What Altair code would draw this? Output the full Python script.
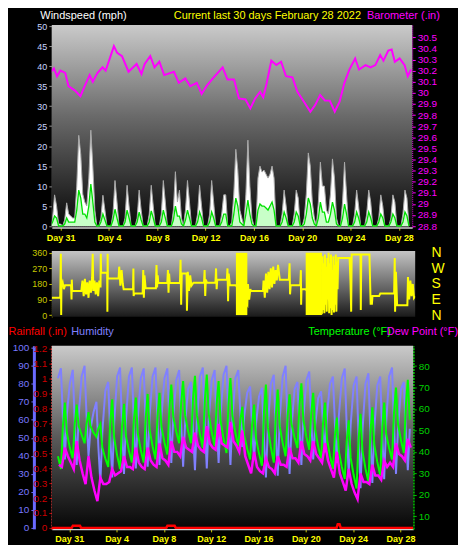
import altair as alt
import pandas as pd

# ---------------- data ----------------
DAYS = list(range(-1, 29))          # Jan 30 .. Feb 28 (0 = Jan 31)
WIND_HOURS = [0, 4, 8, 12, 16, 20]
gust = [
    [0, 0, 2, 7.8, 5, 0.5], [0.5, 0, 1.5, 5.8, 3, 2.5], [2, 2, 10, 22.7, 18, 8],
    [6, 5, 12, 24, 15, 4], [0, 0, 2, 7.7, 4, 0], [0, 0, 3, 11.4, 6, 0],
    [0, 0, 2, 10.2, 5, 0], [0, 0, 2, 9, 4, 0], [0, 0, 3, 10.2, 5, 0],
    [0, 0, 3, 11.4, 6, 0], [0, 0, 4, 13.6, 6, 9], [2, 0, 4, 11.4, 6, 0],
    [0, 0, 3, 10.2, 5, 0], [0, 0, 3, 11.4, 6, 0], [0, 0, 3, 7.8, 7.8, 0],
    [0, 1, 8, 19.2, 14, 4], [2, 0, 8, 21.5, 10, 2], [0, 0, 12, 15, 13.5, 14],
    [13, 12, 13, 15, 12, 0], [0, 0, 3, 9, 5, 0], [0, 0, 3, 9, 7, 0],
    [0, 2, 8, 18.3, 15, 6], [2, 0, 6, 16, 10, 10], [4, 3, 8, 16.8, 12, 2],
    [0, 0, 6, 16, 8, 0], [0, 0, 3, 9, 5, 0], [0, 0, 3, 9, 6, 0],
    [0, 0, 2, 7.8, 5, 0], [0, 0, 2, 7.8, 6, 0], [0, 0, 3, 9, 7, 0],
]
avg = [
    [0, 0, 1, 2.5, 2, 0], [0, 0, 0.5, 2, 1, 1], [1, 1, 4, 9, 7, 3],
    [3, 2, 5, 10.5, 6, 1], [0, 0, 1, 3, 1.5, 0], [0, 0, 1.5, 4.2, 2, 0],
    [0, 0, 1, 4, 2, 0], [0, 0, 1, 3.5, 1.5, 0], [0, 0, 1, 3.8, 2, 0],
    [0, 0, 1, 4, 2, 0], [0, 0, 1.5, 5, 2.5, 2.5], [0.5, 0, 1.5, 4, 2, 0],
    [0, 0, 1, 3.5, 2, 0], [0, 0, 1, 3.5, 2, 0], [0, 0, 1, 3, 3, 0],
    [0, 0, 3, 7, 5, 1], [0.5, 0, 3, 6.5, 3, 0.5], [0, 0, 4, 5.5, 5, 5],
    [4.5, 4, 5, 6, 4, 0], [0, 0, 1, 3.5, 2, 0], [0, 0, 1, 3.5, 2.5, 0],
    [0, 0.5, 3, 7, 5.5, 2], [0.5, 0, 2, 6, 3.5, 3.5], [1, 1, 3, 6, 4, 0.5],
    [0, 0, 2, 5.5, 3, 0], [0, 0, 1, 3.5, 2, 0], [0, 0, 1, 3.5, 2, 0],
    [0, 0, 1, 3, 2, 0], [0, 0, 1, 3, 2, 0], [0, 0, 1, 3.5, 2.5, 0],
]

baro_t = [-1.10, -0.56, -0.30, -0.02, 0.38, 0.65, 1.19, 1.64, 1.99, 2.40, 2.66, 3.06,
          3.47, 3.73, 4.41, 4.68, 5.08, 5.62, 6.29, 6.69, 6.96, 7.42, 7.77, 8.17,
          8.57, 9.38, 9.78, 10.32, 10.73, 11.27, 11.67, 12.07, 12.60, 13.01, 13.41,
          13.81, 14.35, 14.76, 15.30, 15.70, 16.10, 16.51, 16.77, 17.04, 17.44, 17.85,
          18.25, 18.65, 19.19, 19.60, 20.14, 20.67, 21.07, 21.48, 21.88, 22.28, 22.69,
          23.09, 23.49, 23.90, 24.38, 24.70, 25.24, 25.65, 26.05, 26.45, 26.72, 27.12,
          27.40, 27.66, 28.06, 28.47, 28.73, 29.01]
baro_v = [30.15, 30.22, 30.15, 30.20, 30.18, 30.06, 30.02, 29.97, 30.06, 30.16, 30.10, 30.18,
          30.23, 30.20, 30.42, 30.36, 30.33, 30.19, 30.26, 30.17, 30.26, 30.33, 30.23, 30.28,
          30.16, 30.19, 30.09, 30.13, 30.06, 30.09, 29.99, 30.06, 30.13, 30.18, 30.23,
          30.12, 30.12, 29.95, 29.94, 29.86, 29.95, 30.01, 29.96, 30.08, 30.29, 30.25,
          30.28, 30.15, 30.14, 30.01, 29.92, 29.83, 29.89, 29.98, 29.93, 29.93, 29.83,
          29.92, 30.09, 30.21, 30.31, 30.21, 30.25, 30.23, 30.25, 30.34, 30.29, 30.38,
          30.39, 30.28, 30.31, 30.25, 30.15, 30.21]

dir_t = [-1.1, -0.4, -0.35, -0.32, -0.3, -0.2, -0.1, 0.0, 0.5, 0.54, 0.56, 0.6, 1.35, 1.45,
         1.55, 1.65, 1.75, 1.85, 1.95, 2.05, 2.15, 2.25, 2.3, 2.35, 2.45, 2.55, 2.65, 2.75,
         2.85, 2.95, 2.97, 3.0, 3.5, 3.52, 3.54, 3.56, 4.45, 4.5, 4.6, 4.7, 4.8, 4.87, 5.65,
         5.68, 5.7, 5.75, 6.45, 6.5, 6.55, 6.6, 6.7, 7.55, 7.6, 7.65, 7.7, 7.75, 8.5, 8.55,
         8.6, 8.65, 8.7, 9.55, 9.6, 9.65, 9.7, 10.1, 10.13, 10.2, 10.3, 10.4, 10.5, 10.67,
         11.55, 11.6, 11.65, 11.7, 11.8, 12.5, 12.55, 12.6, 12.65, 13.45, 13.5, 13.55, 13.6,
         13.7, 14.2, 15.15, 15.2, 15.3, 15.4, 15.45, 16.45, 16.5, 16.6, 16.7, 16.8, 16.9,
         17.0, 17.1, 17.2, 17.3, 17.4, 17.5, 17.6, 17.7, 17.85, 18.6, 18.66, 18.7, 18.75,
         19.55, 19.6, 19.62, 19.65, 20.0, 21.35, 21.4, 21.45, 21.5, 21.55, 21.6, 21.65, 21.7,
         21.75, 21.8, 21.85, 21.9, 21.95, 22.0, 22.05, 22.1, 22.15, 22.2, 22.25, 22.3, 22.35,
         22.4, 22.45, 22.5, 22.55, 22.6, 22.65, 22.7, 23.65, 23.72, 23.78, 23.82, 24.55,
         24.58, 24.62, 25.3, 25.35, 25.4, 25.45, 25.5, 25.55, 26.1, 26.2, 27.35, 27.4, 27.43,
         27.5, 27.6, 28.45, 28.5, 28.6, 28.7, 28.8, 28.9, 29.0, 29.1]
dir_v = [100, 100, 355, 0, 170, 190, 150, 172, 172, 90, 205, 140, 140, 200,
         110, 210, 120, 190, 100, 200, 130, 215, 355, 140, 200, 120, 190, 110,
         200, 160, 355, 245, 245, 20, 355, 211, 211, 280, 170, 260, 180, 150, 150,
         270, 110, 125, 125, 260, 100, 230, 155, 155, 290, 160, 230, 185, 185, 260,
         130, 240, 185, 185, 320, 60, 240, 240, 25, 250, 140, 230, 170, 187,
         187, 260, 110, 205, 187, 187, 270, 150, 205, 205, 270, 80, 240,
         172, 172, 60, 180, 90, 150, 140, 140, 200, 100, 240, 130, 250,
         150, 270, 160, 280, 180, 260, 200, 290, 205, 205, 300, 120, 172,
         172, 260, 60, 150, 150, 20, 340, 30, 300, 10, 350, 60, 280,
         20, 330, 90, 360, 10, 300, 40, 350, 0, 260, 30, 340, 15,
         290, 60, 350, 20, 310, 150, 330, 330, 200, 20, 350, 350,
         30, 350, 350, 200, 60, 110, 60, 110, 110, 125, 125, 330, 20,
         250, 57, 57, 220, 90, 200, 110, 180, 100, 110]
block_start = [14.2, 20.0]
block_end = [15.15, 21.35]
block_lo = [0, 0]
block_hi = [360, 360]

TH_HOURS = [1, 7, 11, 15, 19]
temp = [
    [38, 32, 52, 63, 49], [42, 37, 53, 62, 52], [48, 44, 53, 58.5, 52], [49, 47, 51, 53, 42],
    [37, 33, 53.5, 64.5, 46.6], [38.5, 32, 52, 62.4, 47.3], [40.5, 35, 54.7, 65.3, 48.6],
    [41, 35, 55.8, 67, 50.2], [42.6, 36.5, 56.7, 67.5, 51.7], [44.5, 38.8, 60, 71.4, 56.3],
    [49.5, 44, 62.9, 73, 57], [49.8, 44, 64.5, 75.5, 57], [48.5, 41.8, 64, 76, 57.6],
    [49.3, 42.6, 62.4, 73, 54.6], [46.2, 39.5, 62.2, 74.4, 56.9], [49, 42.6, 54.6, 61, 47.5],
    [41.4, 36.5, 53, 62, 46.3], [39.2, 33.5, 58.1, 71.4, 51.4], [42.3, 35, 57.1, 69, 52],
    [44.2, 38, 56.7, 66.8, 53], [46.8, 41.8, 61.4, 72, 55], [47.2, 41, 58.2, 67.5, 50.5],
    [42.7, 36.5, 53.7, 63, 46], [38.2, 32, 47.6, 56, 40.3], [33.1, 27.4, 45.1, 54.7, 37.2],
    [29.3, 22.9, 45.5, 57.7, 40.3], [32.3, 26, 48.6, 60.8, 43.3], [35.4, 29, 51.1, 63, 48.4],
    [41.8, 36.5, 58.3, 70, 53.2], [45.6, 39.5, 61.7, 73.6, 55],
]
hum = [
    [83, 88.6, 61, 38, 63], [80, 87.7, 59, 35, 62], [84, 90, 62, 40, 55], [64, 70, 45, 25, 53],
    [76, 81, 52, 28, 58], [84, 89, 57, 30, 60], [84, 89, 58, 33, 61], [83, 88.5, 58, 34, 62],
    [84, 89, 59, 35, 62], [83, 88.5, 60, 36, 62], [82, 87.6, 58, 34, 58], [77, 81, 54, 32, 60],
    [84, 89, 58, 33, 60], [82, 87.6, 59, 36, 63], [85, 90, 60, 35, 61], [83, 87.6, 64, 45, 62],
    [75, 78.5, 56, 38, 58], [73, 77.7, 50, 28, 56], [80, 85, 54, 29, 60], [84, 90, 57, 30, 56],
    [77, 81, 56, 35, 61], [82, 86.7, 60, 38, 57], [72, 75.8, 57, 42, 63], [80, 84, 58, 36, 62],
    [83, 88.5, 56, 30, 57], [79, 84, 50, 22, 54], [80, 85.8, 52, 25, 55], [79, 84, 53, 27, 58],
    [84, 89, 57, 30, 55], [77, 81, 54, 32, 55],
]
DEW_HOURS = [3, 9, 15, 21]
dew = [
    [34, 33, 42, 38], [35, 32, 45, 36], [30, 25, 38, 28], [22, 17, 28, 25], [25, 26, 32, 29],
    [30, 31, 38, 33], [33, 32, 42, 35], [33, 32, 42, 36], [34, 33, 44, 37], [36, 34, 45, 40],
    [40, 38, 47, 42], [41, 40, 49, 43], [41, 40, 52, 44], [42, 41, 53, 44], [43, 42, 54, 45],
    [43, 40, 50, 38], [34, 30, 40, 33], [31, 30, 37, 33], [32, 30, 38, 34], [34, 33, 42, 37],
    [37, 35, 45, 39], [38, 36, 45, 39], [37, 35, 44, 36], [32, 28, 40, 30], [26, 22, 32, 25],
    [21, 18, 30, 26], [26, 25, 34, 29], [29, 27, 36, 33], [35, 33, 44, 39], [38, 36, 46, 42],
]
rain_t = [-1.5, 0.2, 0.3, 0.9, 1.0, 8.2, 8.3, 8.9, 9.0, 22.6, 22.7, 22.85, 22.95, 29.1]
rain_v = [0, 0, 0.015, 0.015, 0, 0, 0.015, 0.015, 0, 0, 0.025, 0.025, 0, 0]

tick_days = [0, 4, 8, 12, 16, 20, 24, 28]
tick_labels = ["Day 31", "Day 4", "Day 8", "Day 12", "Day 16", "Day 20", "Day 24", "Day 28"]
wind_ticks = [0, 5, 10, 15, 20, 25, 30, 35, 40, 45, 50]
baro_ticks = [28.8, 28.9, 29.0, 29.1, 29.2, 29.3, 29.4, 29.5, 29.6, 29.7, 29.8, 29.9,
              30.0, 30.1, 30.2, 30.3, 30.4, 30.5]
dir_ticks = [0, 90, 180, 270, 360]
compass = ["N", "E", "S", "W", "N"]
hum_ticks = [0, 10, 20, 30, 40, 50, 60, 70, 80, 90, 100]
rain_ticks = [0, 0.1, 0.2, 0.3, 0.4, 0.5, 0.6, 0.7, 0.8, 0.9, 1.0, 1.1, 1.2]
temp_ticks = [10, 20, 30, 40, 50, 60, 70, 80, 90]

# ---------------- tables ----------------
def per_day(rows, hours, name):
    recs = []
    for d, row in zip(DAYS, rows):
        for h, v in zip(hours, row):
            recs.append({"t": d + h / 24.0, name: v})
    return pd.DataFrame(recs)

wind_df = per_day(gust, WIND_HOURS, "gust").merge(per_day(avg, WIND_HOURS, "avg"), on="t")
baro_df = pd.DataFrame({"t": baro_t, "p": baro_v})
dir_df = pd.DataFrame({"t": dir_t, "dir": dir_v})
block_df = pd.DataFrame({"s": block_start, "e": block_end, "lo": block_lo, "hi": block_hi})
temp_df = per_day(temp, TH_HOURS, "temp")
hum_df = per_day(hum, TH_HOURS, "hum")
dew_df = per_day(dew, DEW_HOURS, "dew")
rain_df = pd.DataFrame({"t": rain_t, "rain": rain_v})
one = pd.DataFrame({"k": [0]})


def label_expr(vals, labels):
    expr = "''"
    for v, l in reversed(list(zip(vals, labels))):
        expr = f"datum.value == {v} ? '{l}' : ({expr})"
    return expr

DAY_EXPR = label_expr(tick_days, tick_labels)
COMPASS_EXPR = label_expr(dir_ticks, compass)
FONT = "Liberation Sans"


def background(w, h, stops):
    return alt.Chart(one).mark_rect(
        fill=alt.Gradient(gradient="linear", x1=0, x2=0, y1=0, y2=1,
                          stops=[alt.GradientStop(color=c, offset=o) for o, c in stops])
    ).encode(x=alt.value(0), x2=alt.value(w), y=alt.value(0), y2=alt.value(h))


def day_axis():
    return alt.Axis(orient="bottom", values=tick_days, labelExpr=DAY_EXPR, labelColor="#ffff00",
                    labelFontSize=9, labelFontWeight="bold", tickColor="#c8c800", tickSize=3,
                    domainColor="#d0d0d0", domainWidth=2, grid=True, gridColor="#c0c0c0",
                    gridDash=[1, 2], gridOpacity=0.45, title=None, labelPadding=3)

# ---------------- panel 1: wind + barometer ----------------
W1, H1 = 362, 203
x1 = alt.Scale(domain=[-0.73, 29.1], nice=False, zero=False)
wind_scale = alt.Scale(domain=[-0.3, 50.3], nice=False)
wind_axis = alt.Axis(orient="left", values=wind_ticks, labelColor="#c8d4ff", labelFontSize=9,
                     tickColor="#909090", tickSize=3, domainColor="#909090", grid=True,
                     gridColor="#c8c8c8", gridDash=[1, 2], gridOpacity=0.45,
                     title="Windspeed (mph)", titleColor="white", titleFontSize=11,
                     titleFontWeight="normal", titleAngle=0, titleAlign="left",
                     titleBaseline="bottom", titleX=-12, titleY=-5)
X1 = alt.X("t:Q", scale=x1, axis=day_axis())
gust_area = alt.Chart(wind_df).mark_area(color="#ffffff", stroke="#a8a8a8", strokeWidth=1,
                                         clip=True).encode(
    x=X1, y=alt.Y("gust:Q", scale=wind_scale, axis=wind_axis))
avg_area = alt.Chart(wind_df).mark_area(color="#c8ffc8", clip=True).encode(
    x=X1, y=alt.Y("avg:Q", scale=wind_scale, axis=wind_axis))
avg_line = alt.Chart(wind_df).mark_line(color="#00e000", strokeWidth=1.3, clip=True).encode(
    x=X1, y=alt.Y("avg:Q", scale=wind_scale, axis=wind_axis))
wind_layer = alt.layer(gust_area, avg_area, avg_line)

baro_axis = alt.Axis(orient="right", values=baro_ticks, format=".3~g", labelColor="#ff00ff",
                     labelFontSize=10, tickColor="#ff00ff", tickSize=3, domainColor="#ff00ff",
                     domainDash=[1, 1], grid=False, title="Barometer (.in)",
                     titleColor="#ff00ff", titleFontSize=11, titleFontWeight="normal",
                     titleAngle=0, titleAlign="left", titleBaseline="bottom", titleX=-46, titleY=-5)
top_axis = alt.Axis(orient="top", labels=False, ticks=False, domain=False, grid=False,
                    title="Current last 30 days February 28 2022", titleColor="#ffff00",
                    titleFontSize=11, titleFontWeight="normal", titleAlign="left",
                    titleBaseline="bottom", titleX=122, titleY=-5)
baro_line = alt.Chart(baro_df).mark_line(color="#ff00ff", strokeWidth=2, clip=True).encode(
    x=alt.X("t:Q", scale=x1, axis=top_axis),
    y=alt.Y("p:Q", scale=alt.Scale(domain=[28.79, 30.61], nice=False, zero=False), axis=baro_axis))

panel1 = alt.layer(
    background(W1, H1, [(0, "#cacaca"), (0.45, "#6a6a6a"), (1, "#080808")]),
    wind_layer, baro_line
).resolve_scale(y="independent").resolve_axis(x="independent").properties(width=W1, height=H1)

# ---------------- panel 2: wind direction ----------------
W2, H2 = 365, 66
x2 = alt.Scale(domain=[-1.1, 29.1], nice=False, zero=False)
dir_scale = alt.Scale(domain=[-10, 370], nice=False, zero=False)
dir_axis = alt.Axis(orient="left", values=dir_ticks, labelColor="#c8c800", labelFontSize=9,
                    tickColor="#c8c800", tickSize=3, domainColor="#c8c800", domainDash=[1, 1],
                    grid=True, gridColor="#c0c0c0", gridDash=[1, 2], gridOpacity=0.35, title=None)
compass_axis = alt.Axis(orient="right", values=dir_ticks, labelExpr=COMPASS_EXPR,
                        labelColor="#ffff00", labelFontSize=14, ticks=False, domain=False,
                        grid=False, labelPadding=16, title=None)
blocks = alt.Chart(block_df).mark_rect(color="#ffff00").encode(
    x=alt.X("s:Q", scale=x2, axis=None), x2="e:Q",
    y=alt.Y("lo:Q", scale=dir_scale, axis=compass_axis), y2="hi:Q")
dir_line = alt.Chart(dir_df).mark_line(color="#ffff00", strokeWidth=2, clip=True).encode(
    x=alt.X("t:Q", scale=x2, axis=None),
    y=alt.Y("dir:Q", scale=dir_scale, axis=dir_axis))
panel2 = alt.layer(
    background(W2, H2, [(0, "#c4c4c4"), (1, "#1a1a1a")]),
    blocks, dir_line
).resolve_axis(y="independent").properties(width=W2, height=H2)

# ---------------- panel 3: rain, humidity, temperature, dew point ----------------
W3, H3 = 363, 184
x3 = alt.Scale(domain=[-1.48, 29.08], nice=False, zero=False)
hum_axis = alt.Axis(orient="left", offset=18, values=hum_ticks, labelColor="#7878ff",
                    labelFontSize=10, tickColor="#7070ff", tickSize=3, domainColor="#6a6aff",
                    domainWidth=3, grid=True, gridColor="#c0c0c0", gridDash=[1, 2],
                    gridOpacity=0.4, title="Humidity", titleColor="#8080ff", titleFontSize=11,
                    titleFontWeight="normal", titleAngle=0, titleAlign="left",
                    titleBaseline="middle", titleX=37, titleY=-14)
rain_axis = alt.Axis(orient="left", values=rain_ticks, format=".2~f", labelColor="#cc0000",
                     labelFontSize=10, tickColor="#cc0000", tickSize=3, domainColor="#ff4040",
                     domainDash=[2, 1], domainWidth=2, grid=False, title="Rainfall (.in)",
                     titleColor="#ff0000", titleFontSize=11, titleFontWeight="normal",
                     titleAngle=0, titleAlign="left", titleBaseline="middle",
                     titleX=-44, titleY=-14)
temp_axis = alt.Axis(orient="right", values=temp_ticks, labelColor="#00d000", labelFontSize=10,
                     tickColor="#00c000", tickSize=3, domainColor="#00c000", domainDash=[2, 1],
                     domainWidth=2, grid=False, title="Temperature (°F)", titleColor="#00ff00",
                     titleFontSize=11, titleFontWeight="normal", titleAngle=0, titleAlign="left",
                     titleBaseline="middle", titleX=-106, titleY=-14)
dew_axis = alt.Axis(orient="right", labels=False, ticks=False, domain=False, grid=False,
                    title="Dew Point (°F)", titleColor="#ff00ff", titleFontSize=11,
                    titleFontWeight="normal", titleAngle=0, titleAlign="left",
                    titleBaseline="middle", titleX=-27, titleY=-14)
t_scale = alt.Scale(domain=[4.1, 89.5], nice=False, zero=False)

hum_line = alt.Chart(hum_df).mark_line(color="#8080ff", strokeWidth=2, clip=True).encode(
    x=alt.X("t:Q", scale=x3, axis=day_axis()),
    y=alt.Y("hum:Q", scale=alt.Scale(domain=[-0.5, 101.1], nice=False, zero=False), axis=hum_axis))
temp_line = alt.Chart(temp_df).mark_line(color="#00ff00", strokeWidth=2, clip=True).encode(
    x=alt.X("t:Q", scale=x3, axis=None), y=alt.Y("temp:Q", scale=t_scale, axis=temp_axis))
dew_line = alt.Chart(dew_df).mark_line(color="#ff00ff", strokeWidth=2.5, clip=True).encode(
    x=alt.X("t:Q", scale=x3, axis=None), y=alt.Y("dew:Q", scale=t_scale, axis=dew_axis))
temp_dew = alt.layer(temp_line, dew_line).resolve_axis(y="independent")
rain_line = alt.Chart(rain_df).mark_line(color="#ff0000", strokeWidth=2.5, clip=True).encode(
    x=alt.X("t:Q", scale=x3, axis=None),
    y=alt.Y("rain:Q", scale=alt.Scale(domain=[-0.0065, 1.22], nice=False, zero=False),
            axis=rain_axis))

panel3 = alt.layer(
    background(W3, H3, [(0, "#cacaca"), (0.5, "#5a5a5a"), (1, "#060606")]),
    hum_line, temp_dew, rain_line
).resolve_scale(y="independent").resolve_axis(x="independent").properties(width=W3, height=H3)

chart = alt.vconcat(panel1, panel2, panel3, spacing=3).properties(
    background="black", padding=0
).configure_view(stroke=None).configure_axis(labelFont=FONT, titleFont=FONT)

chart.save("out.html", embed_options={"renderer": "svg", "actions": False})
